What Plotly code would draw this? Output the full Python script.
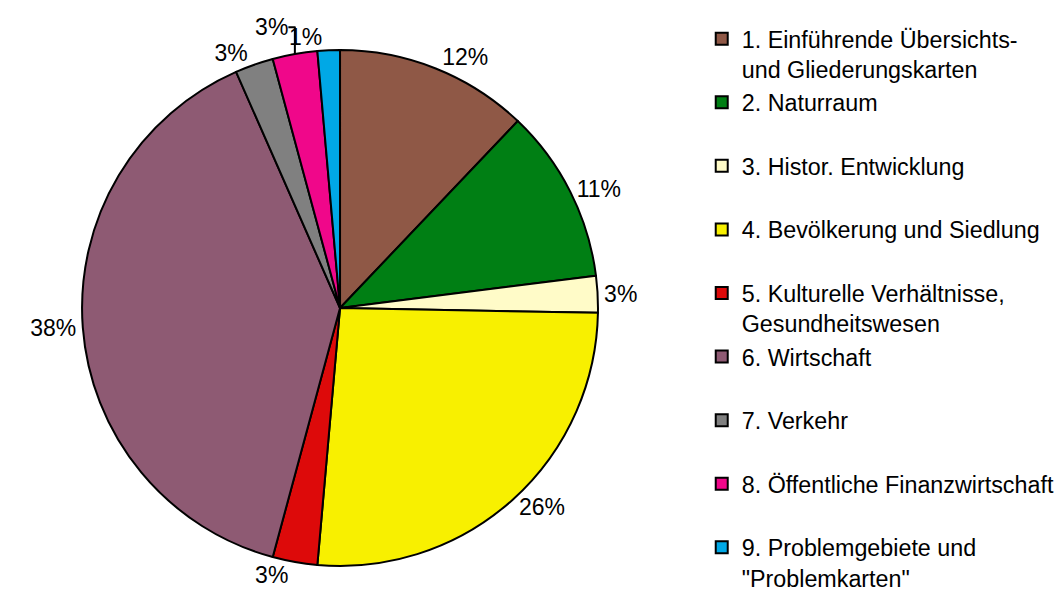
import plotly.graph_objects as go

categories = [
    "1. Einführende Übersichts-<br>und Gliederungskarten",
    "2. Naturraum<br> ",
    "3. Histor. Entwicklung<br> ",
    "4. Bevölkerung und Siedlung<br> ",
    "5. Kulturelle Verhältnisse,<br>Gesundheitswesen",
    "6. Wirtschaft<br> ",
    "7. Verkehr<br> ",
    "8. Öffentliche Finanzwirtschaft<br> ",
    "9. Problemgebiete und<br>\"Problemkarten\"",
]
shares = [12.1, 10.9, 2.3, 26.1, 2.8, 39.2, 2.4, 2.8, 1.4]
pct_labels = ["12%", "11%", "3%", "26%", "3%", "38%", "3%", "3%", "1%"]
colors = ["#8F5846", "#007F14", "#FFFBC8", "#F8F000", "#DD0A0A",
          "#8E5A73", "#808080", "#F0078A", "#00A8E6"]

FONT = "Liberation Sans, Arial"
DOMAIN = dict(x=[0.0696, 0.5545], y=[0.07, 0.93])

# The last slice's label is placed by a second, transparent pie layer so
# that Plotly does not stack it above its neighbours with a connector line.
last = len(shares) - 1
text_main = [t if i != last else "" for i, t in enumerate(pct_labels)]
text_extra = [t if i == last else "" for i, t in enumerate(pct_labels)]

common = dict(
    labels=categories,
    values=shares,
    textinfo="text",
    textposition="outside",
    outsidetextfont=dict(size=23, color="black", family=FONT),
    sort=False,
    direction="clockwise",
    rotation=0,
    hole=0,
    domain=DOMAIN,
)

fig = go.Figure()
fig.add_trace(go.Pie(
    text=text_main,
    marker=dict(colors=colors, line=dict(color="black", width=2)),
    **common,
))
fig.add_trace(go.Pie(
    text=text_extra,
    marker=dict(colors=["rgba(0,0,0,0)"] * len(shares),
                line=dict(color="rgba(0,0,0,0)", width=0)),
    showlegend=False,
    hoverinfo="skip",
    **common,
))

fig.update_layout(
    width=1064, height=600,
    margin=dict(l=0, r=0, t=0, b=0, autoexpand=False),
    paper_bgcolor="white",
    plot_bgcolor="white",
    font=dict(family=FONT, size=23, color="black"),
    legend=dict(x=0.652, y=0.985, xanchor="left", yanchor="top",
                valign="top", font=dict(size=23.3, color="black"),
                maxheight=1000,
                bgcolor="rgba(0,0,0,0)"),
)

fig.write_html("out.html")
